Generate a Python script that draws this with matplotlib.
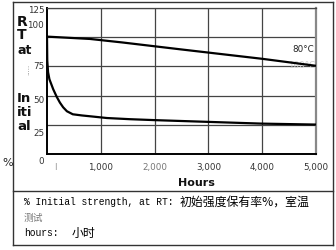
import matplotlib
matplotlib.use('Agg')
import matplotlib.pyplot as plt
import matplotlib.transforms as mtransforms
from matplotlib.lines import Line2D

# retention curves (hours, % of initial strength at RT)
hours_80 = [0, 800, 1400, 2500, 4000, 5000]
pct_80 = [100.5, 98.5, 95.5, 89.5, 81.5, 75.5]

hours_100 = [0, 5, 20, 45, 115, 180, 240, 300, 370, 480, 650, 800, 1115, 1540, 2000, 3000, 4000, 5000]
pct_100 = [100, 80, 70, 64, 55.5, 49, 44, 40, 36.6, 34, 33, 32.3, 30.8, 29.8, 29, 27.5, 26, 25.2]

y_ticks = [0, 25, 50, 75, 100, 125]
y_tick_labels = ['0', '25', '50', '75', '100', '125']
x_ticks = [1000, 2000, 3000, 4000, 5000]
x_tick_labels = ['1,000', '2,000', '3,000', '4,000', '5,000']

# the y labels in the picture sit a bit off their gridlines (pixels, down = +)
y_label_shift = [5, 7, 3, -2, -14, 1]

fig = plt.figure(figsize=(3.36, 2.51), dpi=100)
ax = fig.add_axes([47 / 336, 1 - 155 / 251, 269 / 336, 146 / 251])

ax.plot(hours_80, pct_80, color='black', linewidth=1.6, solid_capstyle='butt', zorder=3)
ax.plot(hours_100, pct_100, color='black', linewidth=1.6, solid_capstyle='butt', zorder=3)

ax.set_xlim(0, 5000)
ax.set_ylim(0, 125)
ax.set_yticks(y_ticks)
ax.set_yticklabels(y_tick_labels)
ax.set_xticks(x_ticks)
ax.set_xticklabels(x_tick_labels)
ax.set_xticks([150], minor=True)
ax.set_xticklabels(['I'], minor=True)
ax.tick_params(axis='both', which='both', length=0, labelsize=6.3, colors='#333333')
ax.tick_params(axis='y', pad=2)
ax.tick_params(axis='x', which='both', pad=6)
for lab in ax.get_xticklabels(minor=True):
    lab.set_color('#999999')
for lab in ax.get_xticklabels()[1:2]:
    lab.set_color('#777777')

for lab, dy in zip(ax.get_yticklabels(), y_label_shift):
    lab.set_transform(lab.get_transform() + mtransforms.ScaledTranslation(0, -dy / 100, fig.dpi_scale_trans))

ax.grid(True, which='major', color='#444444', linewidth=0.9)
for side in ['left', 'bottom']:
    ax.spines[side].set_linewidth(1.4)
    ax.spines[side].set_color('black')
ax.spines['top'].set_color('#444444')
ax.spines['top'].set_linewidth(0.9)
ax.spines['right'].set_color('#888888')
ax.spines['right'].set_linewidth(1.6)

ax.text(4960, 90.5, '80°C', fontsize=6.3, ha='right', va='center', color='#222222')
ax.text(4990, 76.5, '100°C', fontsize=6.3, ha='right', va='center', color='#cccccc', zorder=2)

# vertical y-axis label, stacked as in the picture
ylab = dict(fontweight='bold', color='#111111', ha='left', va='center')
fig.text(17 / 336, 1 - 22 / 251, 'R', fontsize=10, **ylab)
fig.text(17 / 336, 1 - 35 / 251, 'T', fontsize=10, **ylab)
fig.text(17 / 336, 1 - 51 / 251, 'at', fontsize=9, **ylab)
fig.text(24 / 336, 1 - 69 / 251, '.....', fontsize=5, rotation=90, color='#888888', ha='left', va='center')
fig.text(17 / 336, 1 - 99 / 251, 'In', fontsize=9.5, **ylab)
fig.text(17 / 336, 1 - 113 / 251, 'iti', fontsize=9.5, **ylab)
fig.text(17 / 336, 1 - 127 / 251, 'al', fontsize=9.5, **ylab)
fig.text(2 / 336, 1 - 163 / 251, '%', fontsize=8, color='#222222', ha='left', va='center')

fig.text(196 / 336, 1 - 183 / 251, 'Hours', fontsize=8, fontweight='bold', ha='center', va='center', color='#111111')

# outer frame and the note box below the chart
frame = dict(color='#333333', linewidth=1.0, transform=fig.transFigure)
x0, x1 = 12.5 / 336, 333 / 336
yt, ym, yb = 1 - 3 / 251, 1 - 192 / 251, 1 - 246 / 251
fig.add_artist(Line2D([x0, x1], [yt, yt], **frame))
fig.add_artist(Line2D([x0, x1], [ym, ym], **frame))
fig.add_artist(Line2D([x0, x1], [yb, yb], **frame))
fig.add_artist(Line2D([x0, x0], [yt, yb], **frame))
fig.add_artist(Line2D([x1, x1], [yt, yb], **frame))

mono = ['Liberation Mono', 'Noto Sans CJK SC']
cjk = ['Noto Sans CJK SC', 'DejaVu Sans']
fig.text(24 / 336, 1 - 202 / 251, '% Initial strength, at RT:', fontsize=6.9, family=mono, ha='left', va='center')
fig.text(180 / 336, 1 - 202 / 251, '初始强度保有率%，室温', fontsize=8.6, family=cjk, ha='left', va='center')
fig.text(24 / 336, 1 - 218 / 251, '测试', fontsize=7, family=cjk, ha='left', va='center', color='#777777')
fig.text(24 / 336, 1 - 233 / 251, 'hours:', fontsize=6.9, family=mono, ha='left', va='center')
fig.text(72 / 336, 1 - 233 / 251, '小时', fontsize=8.6, family=cjk, ha='left', va='center')

fig.savefig('out.png', dpi=100)
